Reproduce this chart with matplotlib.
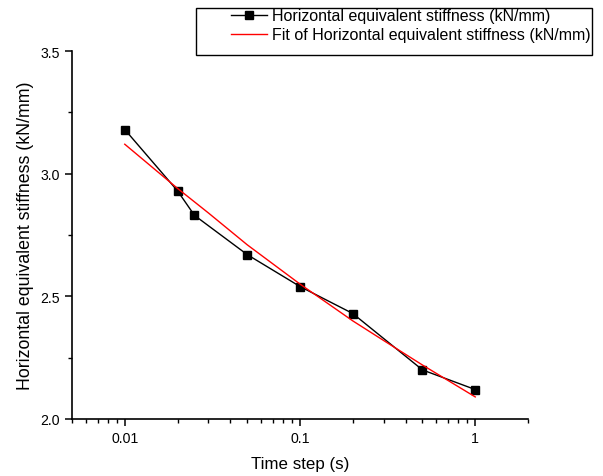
import numpy as np
import matplotlib
matplotlib.use("Agg")
import matplotlib.pyplot as plt
from matplotlib.patches import Rectangle
from matplotlib.ticker import MultipleLocator, LogLocator, NullFormatter

plt.rcParams['font.family'] = ['Liberation Sans', 'DejaVu Sans']

# measured points
time_step = [0.01, 0.02, 0.025, 0.05, 0.1, 0.2, 0.5, 1.0]
stiffness = [3.18, 2.93, 2.83, 2.67, 2.54, 2.43, 2.20, 2.12]

# fitted curve
fit_x = [0.01, 0.02, 0.03, 0.05, 0.1, 0.2, 0.3, 0.5, 1.0]
fit_y = [3.12, 2.94, 2.84, 2.71, 2.55, 2.40, 2.32, 2.22, 2.09]

x_ticks = [0.01, 0.1, 1]
x_labels = ["0.01", "0.1", "1"]
y_ticks = [2.0, 2.5, 3.0, 3.5]
y_labels = ["2.0", "2.5", "3.0", "3.5"]

label = "Horizontal equivalent stiffness (kN/mm)"
fit_label = "Fit of Horizontal equivalent stiffness (kN/mm)"

fig = plt.figure(figsize=(6.03, 4.77), dpi=100)
ax = fig.add_axes([72 / 603, 1 - 420 / 477, 456 / 603, 368 / 477])

l1, = ax.plot(time_step, stiffness, color="black", lw=1, marker="s",
              markersize=6, markerfacecolor="black", markeredgecolor="black")
l2, = ax.plot(fit_x, fit_y, color="red", lw=1)

ax.set_xscale("log")
ax.set_xlim(0.005, 2)
ax.set_ylim(2.0, 3.5)

ax.set_xticks(x_ticks)
ax.set_xticklabels(x_labels)
ax.xaxis.set_minor_locator(LogLocator(base=10, subs=np.arange(2, 10)))
ax.xaxis.set_minor_formatter(NullFormatter())
ax.set_yticks(y_ticks)
ax.set_yticklabels(y_labels)
ax.yaxis.set_minor_locator(MultipleLocator(0.25))

for s in ["top", "right"]:
    ax.spines[s].set_visible(False)
for s in ["left", "bottom"]:
    ax.spines[s].set_linewidth(1.2)

ax.tick_params(which="major", direction="out", length=5, width=1.1, labelsize=10.2)
ax.tick_params(which="minor", direction="out", length=3, width=1.0)

ax.set_xlabel("Time step (s)", fontsize=12.2, labelpad=8)
ax.set_ylabel(label, fontsize=12.8, labelpad=5)

leg = fig.legend([l1, l2], [label, fit_label], loc="upper right",
                 bbox_to_anchor=(594 / 603, 1 - 6 / 477), frameon=False,
                 fontsize=11.5, handlelength=2.25, handletextpad=0.3,
                 labelspacing=0.25, borderpad=0.2, borderaxespad=0)

fig.patches.append(Rectangle((196 / 603, 1 - 56 / 477), 396 / 603, 47.5 / 477,
                             transform=fig.transFigure, fill=False,
                             edgecolor="black", lw=1.0))

fig.savefig("out.png", dpi=100)
